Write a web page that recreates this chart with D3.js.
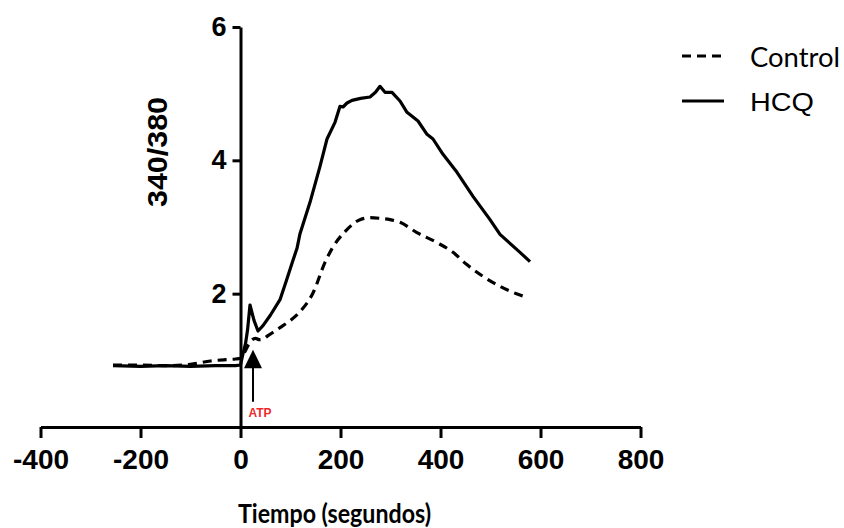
<!DOCTYPE html>
<html>
<head>
<meta charset="utf-8">
<script src="https://cdn.jsdelivr.net/npm/d3@7"></script>
<style>
  body { margin: 0; background: #fff; }
  svg { display: block; }
</style>
</head>
<body>
<div id="main"></div>
<script>
// Sizes
var svgWidth = 844;
var svgHeight = 528;

// Data: time (s) and 340/380 ratio
var controlTime = [-255, -200, -150, -100, -60, -30, -10, 0, 8, 15, 22, 30, 38, 45, 55, 79, 100, 119, 145, 169, 185, 209, 239, 259, 279, 299, 319, 352, 392, 425, 452, 485, 519, 559, 572];
var controlValue = [0.93, 0.93, 0.92, 0.94, 0.99, 1.01, 1.02, 1.03, 1.12, 1.22, 1.30, 1.33, 1.31, 1.32, 1.37, 1.49, 1.60, 1.73, 2.01, 2.47, 2.70, 2.93, 3.11, 3.14, 3.13, 3.11, 3.07, 2.92, 2.77, 2.62, 2.44, 2.26, 2.11, 1.98, 1.95];

var hcqTime = [-255, -200, -150, -100, -50, -10, 0, 5, 10, 14, 19, 27, 35, 45, 60, 79, 92, 104, 113, 119, 139, 159, 173, 189, 199, 205, 213, 223, 240, 259, 270, 279, 289, 303, 319, 333, 355, 373, 385, 405, 433, 465, 499, 519, 559, 579];
var hcqValue = [0.92, 0.91, 0.92, 0.91, 0.92, 0.92, 0.93, 1.10, 1.25, 1.45, 1.83, 1.60, 1.44, 1.52, 1.68, 1.91, 2.20, 2.48, 2.68, 2.90, 3.37, 3.91, 4.32, 4.57, 4.81, 4.80, 4.86, 4.90, 4.93, 4.95, 5.02, 5.11, 5.02, 5.02, 4.89, 4.72, 4.59, 4.39, 4.32, 4.09, 3.82, 3.46, 3.11, 2.89, 2.62, 2.48];

var xTicks = [-400, -200, 0, 200, 400, 600, 800];
var yTicks = [2, 4, 6];

// ATP marker
var atpTime = 25;

var svg = d3.select('#main')
  .append('svg')
  .attr('width', svgWidth)
  .attr('height', svgHeight);

var xScale = d3.scaleLinear().domain([-400, 800]).range([40.5, 640.5]);
var yScale = d3.scaleLinear().domain([0, 6]).range([427, 27]);

var fontArial = "'Liberation Sans', Arial, sans-serif";
var plainFormat = function(d) { return String(d); }; // keep a plain hyphen for negatives

// x-axis
var xAxisG = svg.append('g')
  .attr('transform', 'translate(0,' + yScale(0) + ')')
  .call(d3.axisBottom(xScale).tickValues(xTicks).tickFormat(plainFormat)
    .tickSize(11).tickSizeOuter(0).tickPadding(11));

// y-axis
var yAxisG = svg.append('g')
  .attr('transform', 'translate(' + xScale(0) + ',0)')
  .call(d3.axisLeft(yScale).tickValues(yTicks).tickFormat(plainFormat)
    .tickSize(8).tickSizeOuter(0).tickPadding(6));

[xAxisG, yAxisG].forEach(function(g) {
  g.select('.domain').attr('stroke', '#000').attr('stroke-width', 3);
  g.selectAll('.tick line').attr('stroke', '#000').attr('stroke-width', 3);
  g.selectAll('.tick text')
    .attr('fill', '#000')
    .style('font-family', fontArial)
    .style('font-weight', 'bold');
});
xAxisG.selectAll('.tick text').style('font-size', '28px');
yAxisG.selectAll('.tick text').style('font-size', '27px');

// lines
var controlData = controlTime.map(function(t, i) { return {t: t, v: controlValue[i]}; });
var hcqData = hcqTime.map(function(t, i) { return {t: t, v: hcqValue[i]}; });

var line = d3.line()
  .x(function(d) { return xScale(d.t); })
  .y(function(d) { return yScale(d.v); });

svg.append('path')
  .datum(controlData)
  .attr('d', line.curve(d3.curveMonotoneX))
  .attr('fill', 'none')
  .attr('stroke', '#000')
  .attr('stroke-width', 3.2)
  .attr('stroke-dasharray', '9,6')
  .attr('stroke-linejoin', 'round');

svg.append('path')
  .datum(hcqData)
  .attr('d', line.curve(d3.curveLinear))
  .attr('fill', 'none')
  .attr('stroke', '#000')
  .attr('stroke-width', 3.2)
  .attr('stroke-linejoin', 'round');

// ATP arrow
var ax = xScale(atpTime);
svg.append('line')
  .attr('x1', ax).attr('x2', ax)
  .attr('y1', yScale(0.38)).attr('y2', yScale(0.92))
  .attr('stroke', '#000')
  .attr('stroke-width', 2);
svg.append('path')
  .attr('d', 'M' + (ax - 9) + ',' + yScale(0.88) + 'L' + ax + ',' + yScale(1.16) + 'L' + (ax + 9) + ',' + yScale(0.88) + 'Z')
  .attr('fill', '#000');
svg.append('text')
  .attr('x', ax + 7)
  .attr('y', yScale(0.15))
  .attr('text-anchor', 'middle')
  .attr('fill', '#ee2a2a')
  .style('font-family', fontArial)
  .style('font-weight', 'bold')
  .style('font-size', '12px')
  .text('ATP');

// axis titles
svg.append('text')
  .attr('x', 238)
  .attr('y', 523)
  .attr('textLength', 193)
  .attr('lengthAdjust', 'spacingAndGlyphs')
  .style('font-family', 'Lato, sans-serif')
  .style('font-weight', 'bold')
  .style('font-size', '26px')
  .text('Tiempo (segundos)');

svg.append('text')
  .attr('transform', 'translate(167,152) rotate(-90)')
  .attr('text-anchor', 'middle')
  .attr('textLength', 110)
  .attr('lengthAdjust', 'spacingAndGlyphs')
  .style('font-family', fontArial)
  .style('font-weight', 'bold')
  .style('font-size', '27px')
  .text('340/380');

// legend
svg.append('line')
  .attr('x1', 682).attr('x2', 725)
  .attr('y1', 56).attr('y2', 56)
  .attr('stroke', '#000')
  .attr('stroke-width', 3.2)
  .attr('stroke-dasharray', '9,6');
svg.append('text')
  .attr('x', 750).attr('y', 67)
  .attr('textLength', 90)
  .attr('lengthAdjust', 'spacingAndGlyphs')
  .style('font-family', 'Lato, sans-serif')
  .style('font-size', '27px')
  .text('Control');

svg.append('line')
  .attr('x1', 682).attr('x2', 724)
  .attr('y1', 101).attr('y2', 101)
  .attr('stroke', '#000')
  .attr('stroke-width', 3.2);
svg.append('text')
  .attr('x', 750).attr('y', 111)
  .attr('textLength', 64)
  .attr('lengthAdjust', 'spacingAndGlyphs')
  .style('font-family', fontArial)
  .style('font-size', '26px')
  .text('HCQ');
</script>
</body>
</html>
